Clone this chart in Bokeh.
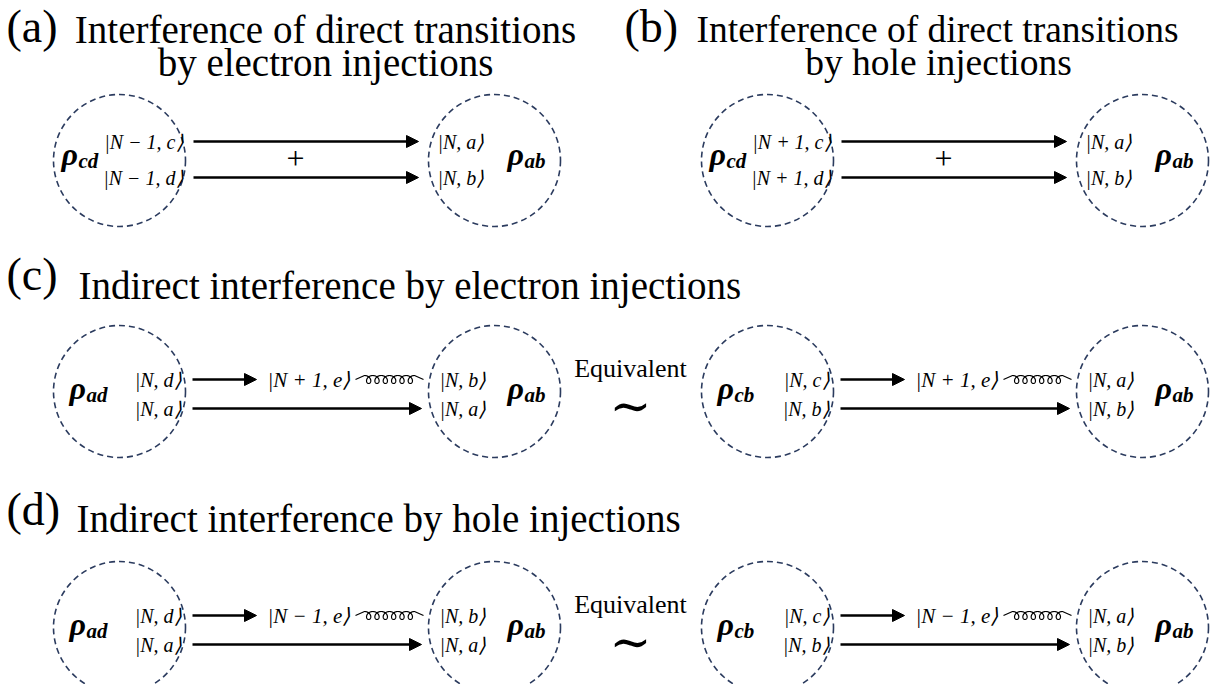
import numpy as np
from bokeh.plotting import figure
from bokeh.models import ColumnDataSource, Range1d, Arrow, NormalHead
from bokeh.core.properties import value
from bokeh.embed import file_html
from bokeh.resources import INLINE

# ---------------- content (texts) ----------------
panel_tags = ["(a)", "(b)", "(c)", "(d)"]
title_first = ["Interference of direct transitions", "Interference of direct transitions",
               "Indirect interference by electron injections", "Indirect interference by hole injections"]
title_second = ["by electron injections", "by hole injections"]

direct_from = [["|N − 1, c⟩", "|N − 1, d⟩"], ["|N + 1, c⟩", "|N + 1, d⟩"]]
direct_to = ["|N, a⟩", "|N, b⟩"]
direct_rho = [["cd", "ab"], ["cd", "ab"]]

indirect_mid = ["|N + 1, e⟩", "|N − 1, e⟩"]
indirect_from = [["|N, d⟩", "|N, a⟩"], ["|N, c⟩", "|N, b⟩"]]
indirect_to = [["|N, b⟩", "|N, a⟩"], ["|N, a⟩", "|N, b⟩"]]
indirect_rho = [["ad", "ab"], ["cb", "ab"]]

plus_sign = "+"
equiv_word = "Equivalent"
equiv_sign = "∼"

# ---------------- layout ----------------
R = 66
cxL, cxR = 119, 494
half_dx = [0, 648]
direct_cy = 160
indirect_cy = [391, 627]
NAVY = "#2b3b5e"
SERIF = "Liberation Serif"

p = figure(width=1213, height=684, x_range=Range1d(0, 1213), y_range=Range1d(684, 0),
           x_axis_type=None, y_axis_type=None,
           output_backend="svg", toolbar_location=None, min_border=0)
p.grid.visible = False
p.outline_line_color = None

texts = {}


def add_text(key, x, y, t):
    texts.setdefault(key, {"x": [], "y": [], "t": []})
    texts[key]["x"].append(x)
    texts[key]["y"].append(y)
    texts[key]["t"].append(t)


circ = {"x": [], "y": []}
arrows = {"x0": [], "x1": [], "y": []}
coils = []


def rho(x, y, sub):
    add_text("rho", x, y - 7, "ρ")
    add_text("rhosub", x + 17, y, sub)


# ---- titles (all vertically centred) ----
tag_pos = [(6, 26), (624, 26), (6, 274), (6, 509)]
for tg, (x, y) in zip(panel_tags, tag_pos):
    add_text("tag", x, y, tg)
add_text("title_a", 325, 29, title_first[0])
add_text("title_b", 937, 29, title_first[1])
add_text("title_a", 325, 62, title_second[0])
add_text("title_b", 938, 62, title_second[1])
add_text("title_l", 78, 285, title_first[2])
add_text("title_l", 76, 518, title_first[3])

# ---- direct panels (a), (b) ----
for k in range(2):
    dx = half_dx[k]
    cy = direct_cy
    ys = [cy - 19, cy + 17]
    circ["x"] += [cxL + dx, cxR + dx]
    circ["y"] += [cy, cy]
    for i in range(2):
        arrows["x0"].append(cxL + dx + 74)
        arrows["x1"].append(cxR + dx - 76)
        arrows["y"].append(ys[i])
        add_text("ket_r", cxL + dx + 64, ys[i], direct_from[k][i])
        add_text("ket_l", cxR + dx - 57, ys[i], direct_to[i])
    rho(cxL + dx - 58, cy, direct_rho[k][0])
    rho(cxR + dx + 13, cy, direct_rho[k][1])
    add_text("plus", cxL + dx + 176, cy - 2, plus_sign)

# ---- indirect panels (c), (d) ----
for j in range(2):
    cy = indirect_cy[j]
    yt, yb = cy - 12, cy + 17
    for k in range(2):
        dx = half_dx[k]
        circ["x"] += [cxL + dx, cxR + dx]
        circ["y"] += [cy, cy]
        arrows["x0"] += [cxL + dx + 73, cxL + dx + 73]
        arrows["x1"] += [cxL + dx + 137, cxL + dx + 302]
        arrows["y"] += [yt, yb]
        add_text("ket_mid", cxL + dx + 148, yt, indirect_mid[j])
        coils.append((cxL + dx + 236, cxL + dx + 304, yt))
        add_text("ket_r", cxL + dx + 62, yt, indirect_from[k][0])
        add_text("ket_r", cxL + dx + 62, yb, indirect_from[k][1])
        add_text("ket_l", cxR + dx - 55, yt, indirect_to[k][0])
        add_text("ket_l", cxR + dx - 55, yb, indirect_to[k][1])
        rho(cxL + dx - 50, cy + 3, indirect_rho[k][0])
        rho(cxR + dx + 13, cy + 3, indirect_rho[k][1])
    add_text("equiv", 630, cy - 23, equiv_word)
    add_text("tilde", 630, cy + 14, equiv_sign)

# ---- circles ----
p.circle(x="x", y="y", radius=R, source=ColumnDataSource(circ), fill_color=None,
         line_color=NAVY, line_width=1.6, line_dash="6 4")

# ---- arrows ----
p.add_layout(Arrow(end=NormalHead(size=12, fill_color="black", line_color="black", line_width=1),
                   x_start="x0", y_start="y", x_end="x1", y_end="y",
                   source=ColumnDataSource(arrows), line_width=2.6, line_color="black"))

# ---- coils (gluon-like springs) ----
cx_list, cy_list = [], []
for (x0, x1, y0) in coils:
    lead = 9
    a, b = x0 + lead, x1 - lead
    t = np.linspace(0, 1, 400)
    n, r = 6, 4.0
    ph = 2 * np.pi * n * t
    xs = a + (b - a) * t + r * np.sin(ph)
    ys = y0 - r * np.cos(ph)
    xs = np.concatenate([[x0], xs, [x1]])
    ys = np.concatenate([[y0], ys, [y0]])
    cx_list.append(list(xs))
    cy_list.append(list(ys))
p.multi_line(xs=cx_list, ys=cy_list, line_color="black", line_width=1.2)

# ---- texts ----
styles = {
    "tag": dict(size="46px", align="left", style="normal", font=SERIF),
    "title_a": dict(size="39px", align="center", style="normal", font=SERIF),
    "title_b": dict(size="37.5px", align="center", style="normal", font=SERIF),
    "title_l": dict(size="39px", align="left", style="normal", font=SERIF),
    "ket_r": dict(size="20px", align="right", style="italic", font=SERIF),
    "ket_l": dict(size="20px", align="left", style="italic", font=SERIF),
    "ket_mid": dict(size="21px", align="left", style="italic", font=SERIF),
    "rho": dict(size="32px", align="left", style="bold italic", font=SERIF),
    "rhosub": dict(size="21px", align="left", style="bold italic", font=SERIF),
    "plus": dict(size="32px", align="center", style="normal", font=SERIF),
    "equiv": dict(size="26px", align="center", style="normal", font=SERIF),
    "tilde": dict(size="50px", align="center", style="normal", font="DejaVu Serif"),
}
for key, d in texts.items():
    s = styles[key]
    p.text(x="x", y="y", text="t", source=ColumnDataSource(d), text_font=value(s["font"]),
           text_font_size=s["size"], text_align=s["align"], text_baseline="middle",
           text_font_style=s["style"], text_color="black")

open("out.html", "w").write(file_html(p, INLINE))
